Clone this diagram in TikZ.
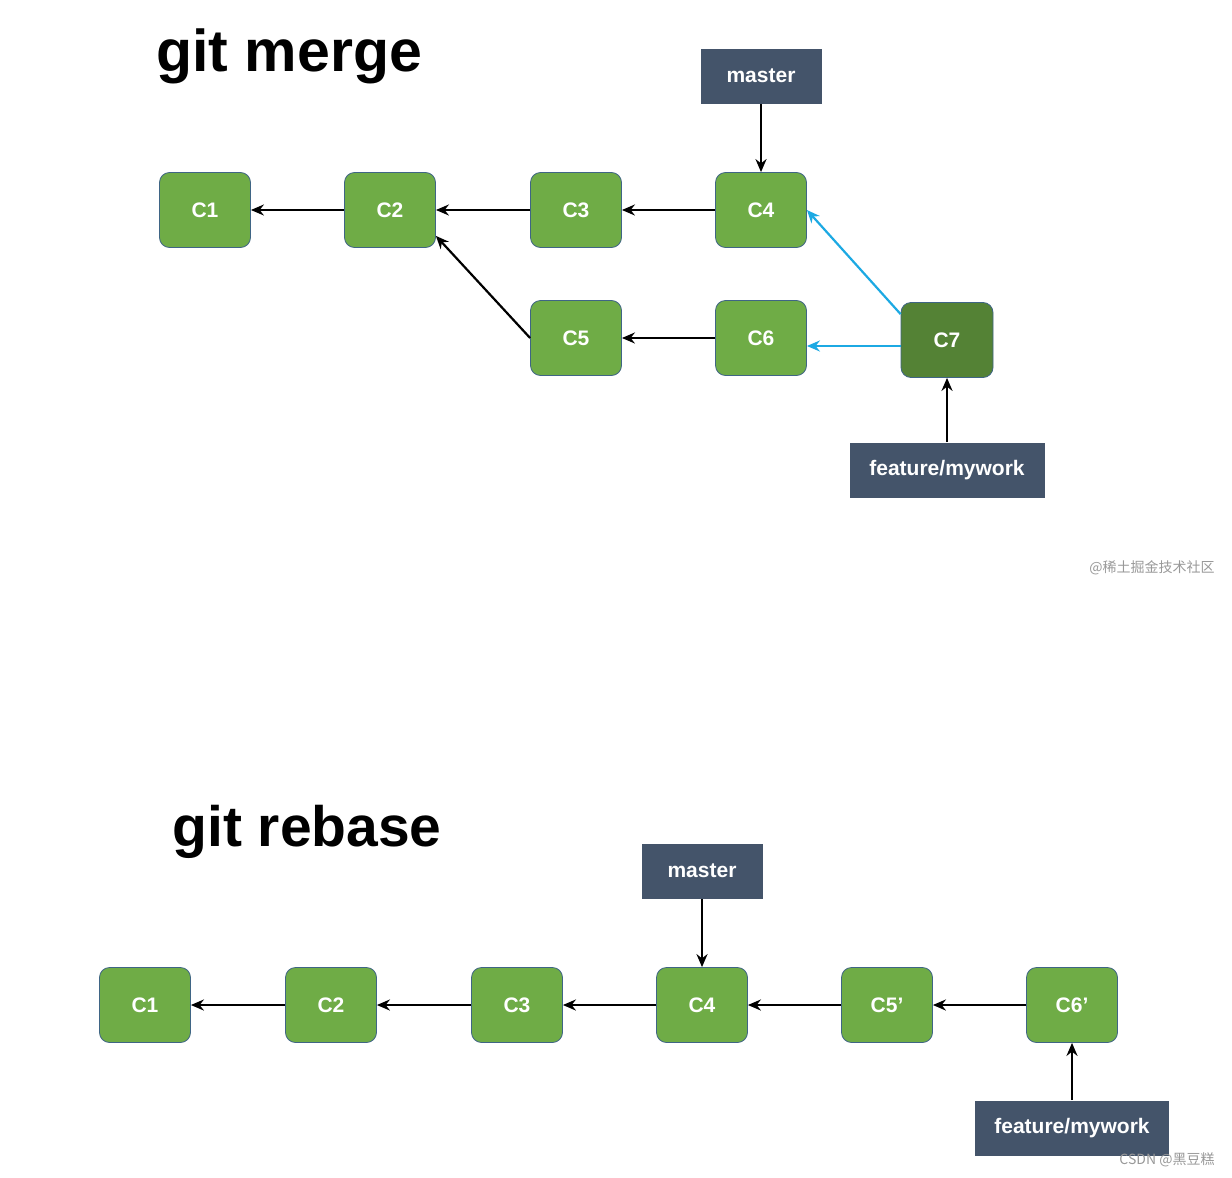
\documentclass[tikz,border=0pt]{standalone}
\usepackage{fontspec}
\setmainfont{Liberation Sans}
\newfontfamily\cjk{Noto Sans CJK SC}
\usetikzlibrary{arrows.meta}
\definecolor{commitgreen}{HTML}{6FAC46}
\definecolor{mergegreen}{HTML}{548235}
\definecolor{commitline}{HTML}{3F6585}
\definecolor{branchblue}{HTML}{44546A}
\definecolor{linkblue}{HTML}{1CA9E3}
\tikzset{
        commit/.style={draw=commitline, fill=commitgreen, rounded corners=5pt, minimum width=45.5pt,
                minimum height=37.5pt, inner sep=0pt, text=white, font=\bfseries\fontsize{10.5}{12}\selectfont},
        branch/.style={fill=branchblue, minimum height=27.5pt, inner sep=0pt, text=white,
                font=\bfseries\fontsize{10.5}{12}\selectfont},
        title/.style={anchor=base west, inner sep=0pt, font=\bfseries\fontsize{28.5}{34}\selectfont},
        watermark/.style={text=black!40, inner sep=0pt, font=\cjk\fontsize{7}{8}\selectfont},
        link/.style={-{Stealth[length=6.5pt,width=5.5pt]}, line width=1.1pt}
}
\begin{document}
\begin{tikzpicture}[x=0.5pt,y=-0.5pt]
        \fill [white] (0,0) rectangle (1232,1178);
        \useasboundingbox (0,0) rectangle (1232,1178);
        \node [title, font=\bfseries\fontsize{29.5}{34}\selectfont] (tmerge) at (156,71) {git merge};
        \node [commit] (m1) at (205,210) {C1};
        \node [commit] (m2) at (390,210) {C2};
        \node [commit] (m3) at (576,210) {C3};
        \node [commit] (m4) at (761,210) {C4};
        \node [commit] (m5) at (576,338) {C5};
        \node [commit] (m6) at (761,338) {C6};
        \node [commit, fill=mergegreen, minimum width=46pt] (m7) at (947,340) {C7};
        \node [branch, minimum width=60.5pt] (mmaster) at (761,76) {master};
        \node [branch, minimum width=97.5pt] (mfeature) at (947,470) {feature/mywork};
        \draw [link] (m2) -- (m1);
        \draw [link] (m3) -- (m2);
        \draw [link] (m4) -- (m3);
        \draw [link] (m6) -- (m5);
        \draw [link] (m5.west) -- ([yshift=6pt]m2.south east);
        \draw [link] (mmaster) -- (m4);
        \draw [link] (mfeature.north) -- (mfeature.north |- m7.south);
        \draw [link, linkblue] (m7.north west) ++(0,12) coordinate (m7out) -- (m4.east);
        \draw [link, linkblue] (m7.west) ++(0,6) coordinate (m7side) -- (m7side -| m6.east);
        \node [watermark] (wm1) at (1152,568) {@稀土掘金技术社区};
        \node [title] (trebase) at (172,846) {git rebase};
        \node [commit] (r1) at (145,1005) {C1};
        \node [commit] (r2) at (331,1005) {C2};
        \node [commit] (r3) at (517,1005) {C3};
        \node [commit] (r4) at (702,1005) {C4};
        \node [commit] (r5) at (887,1005) {C5’};
        \node [commit] (r6) at (1072,1005) {C6’};
        \node [branch, minimum width=60.5pt] (rmaster) at (702,871) {master};
        \node [branch, minimum width=97pt] (rfeature) at (1072,1128) {feature/mywork};
        \foreach \a/\b in {r2/r1, r3/r2, r4/r3, r5/r4, r6/r5}
                \draw [link] (\a) -- (\b);
        \draw [link] (rmaster) -- (r4);
        \draw [link] (rfeature.north) -- (rfeature.north |- r6.south);
        \node [watermark] (wm2) at (1167,1160) {CSDN @黑豆糕};
\end{tikzpicture}
\end{document}
